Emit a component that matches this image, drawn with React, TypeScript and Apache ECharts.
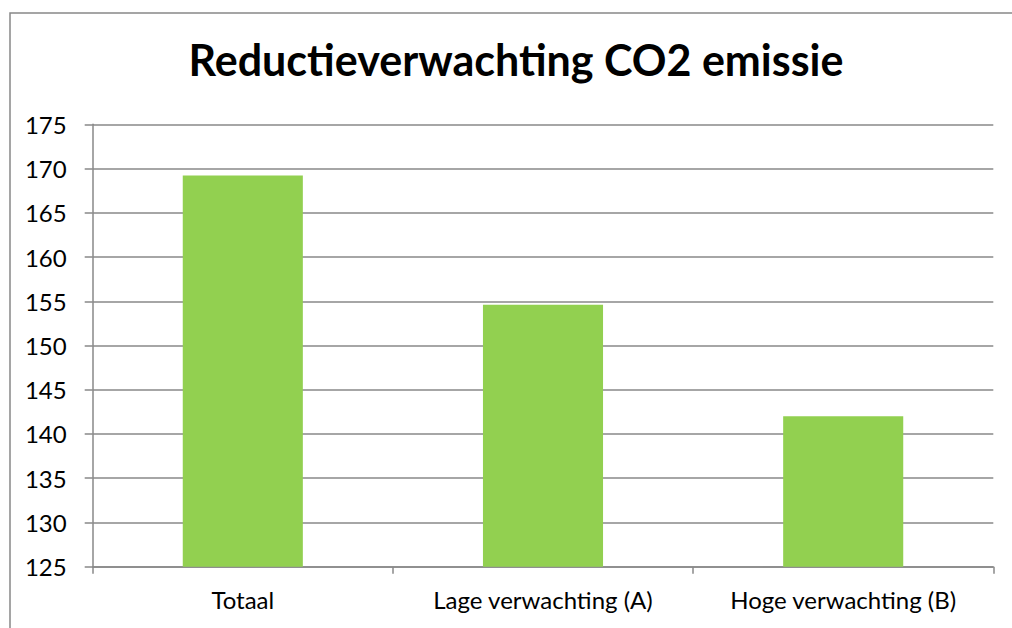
import React, { useEffect, useRef } from "react";
import * as echarts from "echarts";

const titleText = "Reductieverwachting CO2 emissie";
const categories = ["Totaal", "Lage verwachting (A)", "Hoge verwachting (B)"];
const values = [169.2, 154.6, 142.0];
const yMin = 125;
const yMax = 175;
const yStep = 5;

export default function App() {
  const ref = useRef<HTMLDivElement>(null);
  useEffect(() => {
    if (!ref.current) return;
    const chart = echarts.init(ref.current, undefined, { renderer: "svg" });
    const font = "Lato, 'Open Sans', sans-serif";
    chart.setOption({
      animation: false,
      backgroundColor: "#ffffff",
      title: {
        text: titleText,
        left: 511,
        top: 33,
        textAlign: "center",
        textStyle: { fontFamily: font, fontWeight: "bold", fontSize: 43, color: "#000000" },
      },
      graphic: [
        {
          type: "rect",
          shape: { x: 10, y: 13, width: 1012, height: 630 },
          style: { fill: "none", stroke: "#888888", lineWidth: 1.5 },
          silent: true,
        },
      ],
      grid: { left: 92.7, right: 18.7, top: 124.3, bottom: 61.3, containLabel: false },
      xAxis: {
        type: "category",
        data: categories,
        axisLine: { show: true, lineStyle: { color: "#888888", width: 1.5 } },
        axisTick: { show: true, length: 7, lineStyle: { color: "#888888", width: 1.5 } },
        axisLabel: { fontFamily: font, fontSize: 24, color: "#000000", margin: 21 },
      },
      yAxis: {
        type: "value",
        min: yMin,
        max: yMax,
        interval: yStep,
        axisLine: { show: true, lineStyle: { color: "#888888", width: 1.5 } },
        axisTick: { show: true, length: 8, lineStyle: { color: "#888888", width: 1.5 } },
        splitLine: { show: true, lineStyle: { color: "#888888", width: 1.5 } },
        axisLabel: { fontFamily: font, fontSize: 24, color: "#000000", margin: 26 },
      },
      series: [
        {
          type: "bar",
          data: values,
          barWidth: "40%",
          itemStyle: { color: "#92D050" },
        },
      ],
    });
    return () => chart.dispose();
  }, []);
  return (
    <div
      ref={ref}
      style={{ position: "fixed", left: 0, top: 0, width: 1012, height: 628 }}
    />
  );
}
